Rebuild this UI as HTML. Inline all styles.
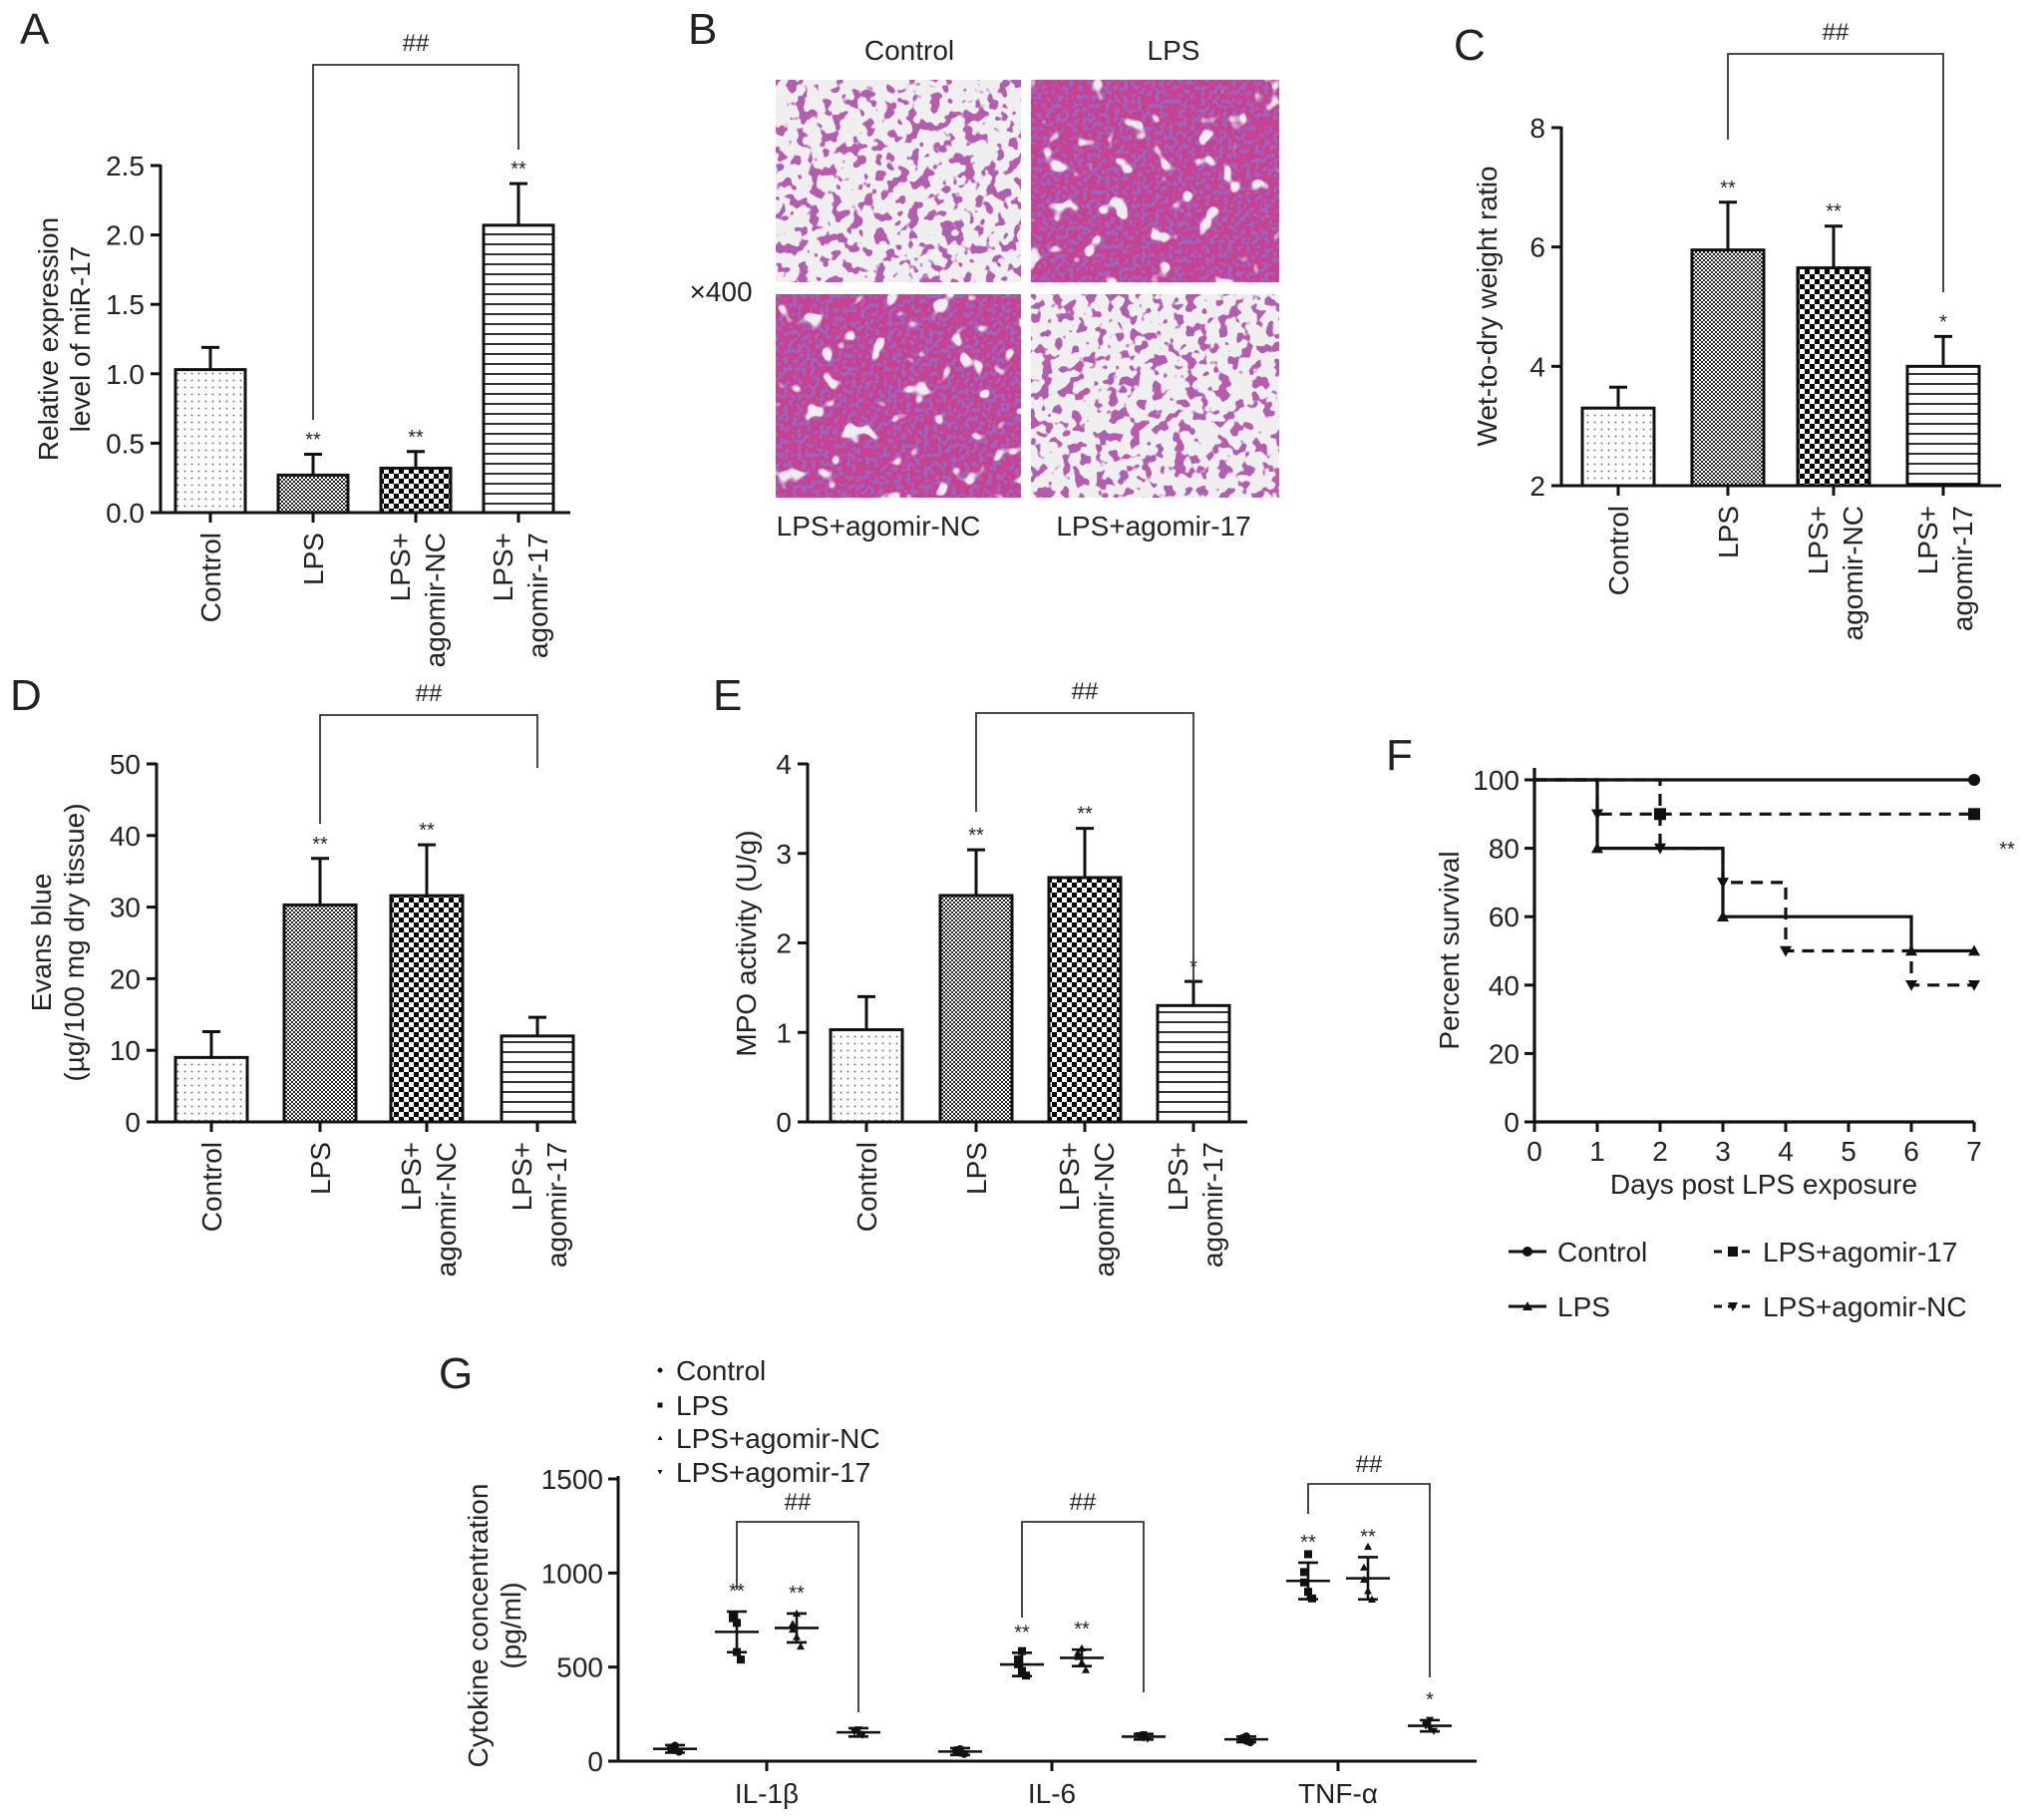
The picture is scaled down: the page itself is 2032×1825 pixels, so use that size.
<!DOCTYPE html>
<html><head><meta charset="utf-8"><style>
html,body{margin:0;padding:0;background:#fff;}
svg{display:block;font-family:"Liberation Sans",Arial,sans-serif;}
</style></head><body>
<svg id="fig" width="2032" height="1825" viewBox="0 0 2032 1825" xmlns="http://www.w3.org/2000/svg">
<defs>
<pattern id="pDots" width="7" height="7" patternUnits="userSpaceOnUse"><rect width="7" height="7" fill="#fff"/><circle cx="3.5" cy="3.5" r="1" fill="#777"/></pattern>
<pattern id="pFine" width="4" height="4" patternUnits="userSpaceOnUse"><rect width="4" height="4" fill="#fff"/><rect width="2" height="2" fill="#222"/><rect x="2" y="2" width="2" height="2" fill="#222"/></pattern>
<pattern id="pCheck" width="10" height="10" patternUnits="userSpaceOnUse"><rect width="10" height="10" fill="#fff"/><rect width="5" height="5" fill="#000"/><rect x="5" y="5" width="5" height="5" fill="#000"/></pattern>
<pattern id="pLines" width="10" height="10" patternUnits="userSpaceOnUse"><rect width="10" height="10" fill="#fff"/><line x1="0" y1="5" x2="10" y2="5" stroke="#000" stroke-width="1.6"/></pattern>
<filter id="holesSparse" x="0" y="0" width="1" height="1"><feTurbulence type="fractalNoise" baseFrequency="0.09" numOctaves="2" seed="4"/><feColorMatrix type="matrix" values="0 0 0 0 0.87  0 0 0 0 0.86  0 0 0 0 0.87  16 0 0 0 -6.4"/></filter>
<filter id="holesDense" x="0" y="0" width="1" height="1"><feTurbulence type="fractalNoise" baseFrequency="0.045" numOctaves="2" seed="9"/><feColorMatrix type="matrix" values="0 0 0 0 0.86  0 0 0 0 0.85  0 0 0 0 0.86  14 0 0 0 -8.9"/></filter>
<filter id="nuclei" x="0" y="0" width="1" height="1"><feTurbulence type="fractalNoise" baseFrequency="0.22" numOctaves="1" seed="2"/><feColorMatrix type="matrix" values="0 0 0 0 0.33  0 0 0 0 0.13  0 0 0 0 0.5  12 0 0 0 -6.0"/></filter>
</defs>
</svg>
<script>
// ---------- data ----------
const barCats = [["Control"],["LPS"],["LPS+","agomir-NC"],["LPS+","agomir-17"]];
const aMeans = [1.03, 0.27, 0.32, 2.07];
const aErrs = [0.16, 0.15, 0.12, 0.30];
const aTicks = ["0.0","0.5","1.0","1.5","2.0","2.5"];
const aSig = ["", "**", "**", "**"];
const cMeans = [3.3, 5.95, 5.65, 4.0];
const cErrs = [0.35, 0.8, 0.7, 0.5];
const cTicks = ["2","4","6","8"];
const cSig = ["", "**", "**", "*"];
const dMeans = [9.0, 30.3, 31.6, 12.0];
const dErrs = [3.6, 6.5, 7.1, 2.6];
const dTicks = ["0","10","20","30","40","50"];
const dSig = ["", "**", "**", ""];
const eMeans = [1.03, 2.53, 2.73, 1.30];
const eErrs = [0.37, 0.51, 0.55, 0.27];
const eTicks = ["0","1","2","3","4"];
const eSig = ["", "**", "**", "*"];

const fDaysTicks = ["0","1","2","3","4","5","6","7"];
const fYTicks = ["0","20","40","60","80","100"];
const survControlX = [0, 7];
const survControlY = [100, 100];
const survLpsX = [0, 1, 3, 6, 7];
const survLpsY = [100, 80, 60, 50, 50];
const survAgo17X = [0, 2, 7];
const survAgo17Y = [100, 90, 90];
const survNcX = [0, 1, 2, 3, 4, 6, 7];
const survNcY = [100, 90, 80, 70, 50, 40, 40];

const gCats = ["IL-1\u03b2","IL-6","TNF-\u03b1"];
const gGroups = ["Control","LPS","LPS+agomir-NC","LPS+agomir-17"];
const gTicks = ["0","500","1000","1500"];
const gMeans = [[65,687,708,153],[51,514,549,130],[116,958,972,188]];
const gSD = [[20,108,77,22],[18,62,44,15],[15,97,112,30]];
const gPoints = [
 [[50,58,65,72,82],[540,580,760,775,735],[610,660,700,730,785],[138,145,155,162,168]],
 [[38,45,52,58,64],[455,480,515,540,585],[485,525,555,575,600],[118,124,130,137,142]],
 [[100,108,116,122,132],[865,900,950,1005,1100],[860,905,965,1030,1140],[160,176,188,200,218]]];
const gSig = [["","**","**",""],["","**","**",""],["","**","**","*"]];

// ---------- helpers ----------
const NS = "http://www.w3.org/2000/svg";
const svg = document.getElementById('fig');
function mk(tag, attrs, parent){
  const e = document.createElementNS(NS, tag);
  for (const k in attrs) e.setAttribute(k, attrs[k]);
  (parent || svg).appendChild(e);
  return e;
}
function txt(s, x, y, size, anchor, parent){
  const t = mk('text', {x:x, y:y, 'font-size':size, 'text-anchor':anchor||'start', fill:'#222'}, parent);
  t.textContent = s;
  return t;
}
function panelLetter(s, x, y){
  const t = txt(s, x, y, 44, 'start');
  
  
}
const FS = 28;
const fills = ['url(#pDots)','url(#pFine)','url(#pCheck)','url(#pLines)'];

function barPanel(id, means, errs, ticks, sig, g, bracket){
  const grp = mk('g', {});
  
  
  const tmin = parseFloat(ticks[0]), tmax = parseFloat(ticks[ticks.length-1]);
  const yS = v => g.y0 - (v - tmin) / (tmax - tmin) * (g.y0 - g.y1);
  means.forEach((m, i) => {
    const cx = g.cx[i];
    const r = mk('rect', {x:cx - g.bw/2, y:yS(m), width:g.bw, height:g.y0 - yS(m), fill:fills[i], stroke:'#111', 'stroke-width':3}, grp);
    
    
    const et = yS(m + errs[i]);
    const eb = mk('path', {d:`M${cx},${yS(m)}V${et}M${cx-9},${et}H${cx+9}`, stroke:'#111', 'stroke-width':3, fill:'none'}, grp);
    
    
    if (sig[i]) {
      const s = txt(sig[i], cx, et - 8, 20, 'middle', grp);
      
      
    }
    mk('line', {x1:cx, y1:g.y0, x2:cx, y2:g.y0 + 10, stroke:'#111', 'stroke-width':3}, grp);
    const lines = barCats[i];
    lines.forEach((ln, j) => {
      const bx = lines.length === 1 ? cx + 10 : (j === 0 ? cx - 6 : cx + 29);
      const t = txt(ln, 0, 0, FS, 'end', grp);
      t.setAttribute('transform', `translate(${bx},${g.y0 + 20}) rotate(-90)`);
      
      
    });
  });
  const ax = mk('path', {d:`M${g.ax},${g.y1 - 1}V${g.y0}H${g.xEnd}`, stroke:'#111', 'stroke-width':3, fill:'none'}, grp);
  
  
  ticks.forEach(tk => {
    const y = yS(parseFloat(tk));
    mk('line', {x1:g.ax - 10, y1:y, x2:g.ax, y2:y, stroke:'#111', 'stroke-width':3}, grp);
    const t = txt(tk, g.ax - 16, y + 10, FS, 'end', grp);
    
    
  });
  g.title.forEach((ln, j) => {
    const t = txt(ln, 0, 0, FS, 'middle', grp);
    t.setAttribute('transform', `translate(${g.tx[j]},${g.ty}) rotate(-90)`);
    
    
  });
  const b = mk('path', {d:`M${g.cx[1]},${bracket.l}V${bracket.top}H${g.cx[3]}V${bracket.r}`, stroke:'#333', 'stroke-width':1.8, fill:'none'}, grp);
  
  
  const h = txt('##', (g.cx[1] + g.cx[3]) / 2, bracket.top - 14, 24, 'middle', grp);
  
  
}

panelLetter('A', 20, 44);
barPanel('a', aMeans, aErrs, aTicks, aSig,
  {ax:161, y0:514, y1:166, xEnd:572, cx:[211,314,417,520], bw:70, title:['Relative expression','level of miR-17'], tx:[58,90], ty:340},
  {top:65, l:421, r:150});
panelLetter('C', 1458, 60);
barPanel('c', cMeans, cErrs, cTicks, cSig,
  {ax:1566, y0:487, y1:128, xEnd:2007, cx:[1623,1733,1839,1949], bw:72, title:['Wet-to-dry weight ratio'], tx:[1501], ty:307},
  {top:54, l:140, r:293});
panelLetter('D', 10, 712);
barPanel('d', dMeans, dErrs, dTicks, dSig,
  {ax:157, y0:1125, y1:766, xEnd:578, cx:[212,321,428,539], bw:72, title:['Evans blue','(\u00b5g/100 mg dry tissue)'], tx:[51,84], ty:945},
  {top:717, l:826, r:770});
panelLetter('E', 715, 712);
barPanel('e', eMeans, eErrs, eTicks, eSig,
  {ax:810, y0:1125, y1:766, xEnd:1251, cx:[869,979,1088,1197], bw:72, title:['MPO activity (U/g)'], tx:[758], ty:946},
  {top:715, l:814, r:985});

// Panel B
panelLetter('B', 690, 44);
const hist = [
  {x:778, y:80, w:246, h:203, dense:false, name:'histology-control'},
  {x:1034, y:80, w:249, h:203, dense:true, name:'histology-lps'},
  {x:778, y:295, w:246, h:204, dense:true, name:'histology-lps-agomir-nc'},
  {x:1034, y:295, w:249, h:204, dense:false, name:'histology-lps-agomir-17'}];
hist.forEach(p => {
  const gg = mk('g', {});
  
  
  mk('rect', {x:p.x, y:p.y, width:p.w, height:p.h, fill:p.dense ? '#c8408f' : '#c058a8'}, gg);
  mk('rect', {x:p.x, y:p.y, width:p.w, height:p.h, filter:'url(#nuclei)'}, gg);
  mk('rect', {x:p.x, y:p.y, width:p.w, height:p.h, filter:p.dense ? 'url(#holesDense)' : 'url(#holesSparse)'}, gg);
});
[['Control',912,60],['LPS',1177,60],['\u00d7400',723,302],['LPS+agomir-NC',881,537],['LPS+agomir-17',1157,537]].forEach(l => {
  const t = txt(l[0], l[1], l[2], FS, 'middle');
  
  
});

// Panel F
panelLetter('F', 1390, 772);
const fg = mk('g', {});


const fx = d => 1539 + d * (1980 - 1539) / 7;
const fy = v => 1125 - v * (1125 - 782) / 100;
function stepPath(xs, ys){
  let d = `M${fx(xs[0])},${fy(ys[0])}`;
  for (let i = 1; i < xs.length; i++) d += `H${fx(xs[i])}V${fy(ys[i])}`;
  return d;
}
function marker(shape, x, y, parent, s){
  s = s || 6;
  let e;
  if (shape === 'circle') e = mk('circle', {cx:x, cy:y, r:s, fill:'#111'}, parent);
  else if (shape === 'square') e = mk('rect', {x:x - s, y:y - s, width:2*s, height:2*s, fill:'#111'}, parent);
  else if (shape === 'up') e = mk('path', {d:`M${x},${y-s}L${x+s},${y+s*0.8}L${x-s},${y+s*0.8}Z`, fill:'#111'}, parent);
  else e = mk('path', {d:`M${x},${y+s}L${x+s},${y-s*0.8}L${x-s},${y-s*0.8}Z`, fill:'#111'}, parent);
  return e;
}
const series = [
  {xs:survControlX, ys:survControlY, dash:'none', shape:'circle', name:'survival-line-control'},
  {xs:survLpsX, ys:survLpsY, dash:'none', shape:'up', name:'survival-line-lps'},
  {xs:survAgo17X, ys:survAgo17Y, dash:'12,8', shape:'square', name:'survival-line-lps-agomir-17'},
  {xs:survNcX, ys:survNcY, dash:'12,8', shape:'down', name:'survival-line-lps-agomir-nc'}];
series.forEach(s => {
  const p = mk('path', {d:stepPath(s.xs, s.ys), stroke:'#111', 'stroke-width':3.2, fill:'none', 'stroke-dasharray':s.dash}, fg);
  
  
  for (let i = 1; i < s.xs.length; i++) {
    const m = marker(s.shape, fx(s.xs[i]), fy(s.ys[i]), fg);
    
    
  }
});
const fax = mk('path', {d:`M1539,770V1125H1980`, stroke:'#111', 'stroke-width':3.2, fill:'none'}, fg);


fYTicks.forEach(tk => {
  const y = fy(parseFloat(tk));
  mk('line', {x1:1529, y1:y, x2:1539, y2:y, stroke:'#111', 'stroke-width':3}, fg);
  const t = txt(tk, 1524, y + 10, FS, 'end', fg);
  
  
});
fDaysTicks.forEach(tk => {
  const x = fx(parseFloat(tk));
  mk('line', {x1:x, y1:1125, x2:x, y2:1135, stroke:'#111', 'stroke-width':3}, fg);
  const t = txt(tk, x, 1164, FS, 'middle', fg);
  
  
});
const fxt = txt('Days post LPS exposure', 1769, 1197, FS, 'middle', fg);


const fyt = txt('Percent survival', 0, 0, FS, 'middle', fg);
fyt.setAttribute('transform', 'translate(1463,953) rotate(-90)');


const fsig = txt('**', 2013, 858, 20, 'middle', fg);


const legF = [
  {x:1513, y:1255, dash:'none', shape:'circle', label:'Control'},
  {x:1513, y:1310, dash:'none', shape:'up', label:'LPS'},
  {x:1719, y:1255, dash:'8,6', shape:'square', label:'LPS+agomir-17'},
  {x:1719, y:1310, dash:'8,6', shape:'down', label:'LPS+agomir-NC'}];
legF.forEach(l => {
  const lg = mk('g', {}, fg);
  
  
  mk('line', {x1:l.x, y1:l.y, x2:l.x + 38, y2:l.y, stroke:'#111', 'stroke-width':3, 'stroke-dasharray':l.dash}, lg);
  marker(l.shape, l.x + 19, l.y, lg, 5);
  txt(l.label, l.x + 49, l.y + 10, FS, 'start', lg);
});

// Panel G
panelLetter('G', 440, 1392);
const gg = mk('g', {});


const gy = v => 1766 - v * (1766 - 1483) / 1500;
const gCatCenter = [769, 1055, 1342];
const gOffsets = [-92, -30, 30, 92];
const gShapes = ['circle','square','up','down'];
gCats.forEach((c, ci) => {
  gGroups.forEach((grpName, gi) => {
    const x = gCatCenter[ci] + gOffsets[gi];
    gPoints[ci][gi].forEach((v, k) => {
      const m = marker(gShapes[gi], x + (k % 2 ? 4 : -4) * ((k % 3) - 1), gy(v), gg, 4);
      
      
    });
    const m = gMeans[ci][gi], sd = gSD[ci][gi];
    const eb = mk('path', {d:`M${x-22},${gy(m)}H${x+22}M${x},${gy(m+sd)}V${gy(m-sd)}M${x-10},${gy(m+sd)}H${x+10}M${x-10},${gy(m-sd)}H${x+10}`, stroke:'#111', 'stroke-width':2.6, fill:'none'}, gg);
    
    
    if (gSig[ci][gi]) {
      const s = txt(gSig[ci][gi], x, gy(m + sd) - 14, 20, 'middle', gg);
      
      
    }
  });
  const tx = gCatCenter[ci];
  mk('line', {x1:tx, y1:1766, x2:tx, y2:1776, stroke:'#111', 'stroke-width':3}, gg);
  const t = txt(c, tx, 1808, FS, 'middle', gg);
  
  
});
const gBr = [{top:1526, l:1594, r:1717},{top:1526, l:1622, r:1697},{top:1488, l:1518, r:1682}];
gBr.forEach((b, ci) => {
  const x1 = gCatCenter[ci] + gOffsets[1], x2 = gCatCenter[ci] + gOffsets[3];
  const p = mk('path', {d:`M${x1},${b.l}V${b.top}H${x2}V${b.r}`, stroke:'#333', 'stroke-width':1.8, fill:'none'}, gg);
  
  
  const h = txt('##', (x1 + x2) / 2, b.top - 12, 24, 'middle', gg);
  
  
});
const gax = mk('path', {d:'M620,1480V1766H1481', stroke:'#111', 'stroke-width':3, fill:'none'}, gg);


gTicks.forEach(tk => {
  const y = gy(parseFloat(tk));
  mk('line', {x1:610, y1:y, x2:620, y2:y, stroke:'#111', 'stroke-width':3}, gg);
  const t = txt(tk, 605, y + 10, FS, 'end', gg);
  
  
});
[['Cytokine concentration',489],['(pg/ml)',522]].forEach(l => {
  const t = txt(l[0], 0, 0, FS, 'middle', gg);
  t.setAttribute('transform', `translate(${l[1]},1630) rotate(-90)`);
  
  
});
const gLegY = [1374, 1409, 1442, 1476];
gGroups.forEach((name, i) => {
  const lg = mk('g', {}, gg);
  
  
  marker(gShapes[i], 662, gLegY[i], lg, 2.5);
  txt(name, 678, gLegY[i] + 10, FS, 'start', lg);
});
</script>
</body></html>
